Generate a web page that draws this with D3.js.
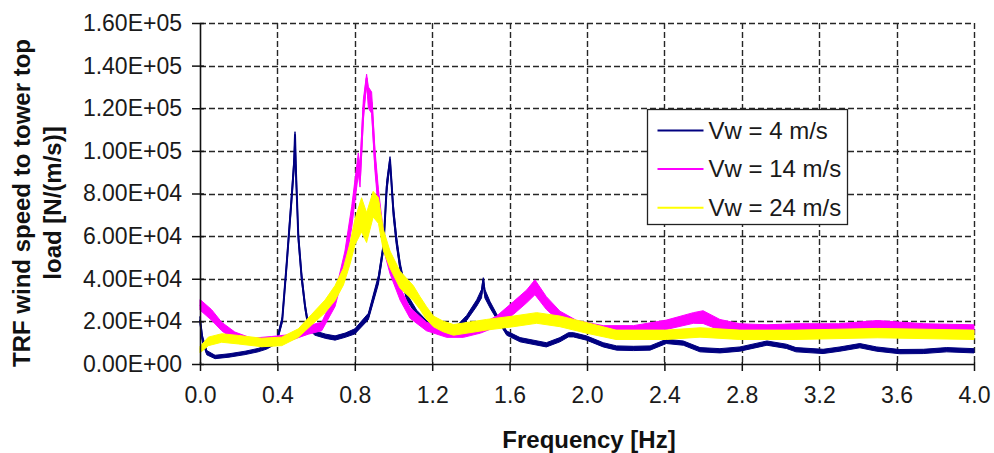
<!DOCTYPE html>
<html>
<head>
<meta charset="utf-8">
<script src="https://cdn.jsdelivr.net/npm/d3@7"></script>
<style>
  html, body { margin: 0; padding: 0; background: #fff; }
  svg { display: block; }
  text { font-family: "Liberation Sans", Arial, Helvetica, sans-serif; }
</style>
</head>
<body>
<svg id="chart" width="994" height="453"></svg>
<script>
// Transfer function, wind speed to tower-top load. Values in 1e3 N/(m/s).
// Each series: frequency [Hz], mean level, and half-width of the noise band.
const freqVw4 = [0.000, 0.012, 0.035, 0.078, 0.15, 0.233, 0.30, 0.345, 0.396, 0.425, 0.448, 0.474, 0.486, 0.491, 0.496, 0.500, 0.508, 0.525, 0.543, 0.560, 0.594, 0.65, 0.698, 0.75, 0.80, 0.87, 0.922, 0.948, 0.965, 0.982, 0.999, 1.015, 1.034, 1.067, 1.12, 1.19, 1.206, 1.31, 1.378, 1.43, 1.455, 1.464, 1.472, 1.499, 1.533, 1.585, 1.654, 1.79, 1.86, 1.904, 1.93, 1.997, 2.084, 2.153, 2.24, 2.326, 2.41, 2.498, 2.584, 2.687, 2.79, 2.93, 3.03, 3.08, 3.22, 3.307, 3.41, 3.497, 3.617, 3.738, 3.859, 4.0];
const trfVw4  = [20.8, 12, 5.3, 3.3, 4.0, 5.2, 6.5, 7.8, 10.6, 20.8, 47, 78.6, 94, 107.5, 90, 80, 60, 41, 27, 17.6, 14.5, 13.0, 12.2, 13.5, 15.3, 22.3, 39.5, 55, 83, 95.8, 72, 58, 45.8, 31.7, 24, 17.6, 16, 15.3, 21.6, 28.6, 33, 39.5, 33, 27.8, 22.3, 14.5, 11.4, 9.0, 11.4, 13.7, 13.7, 12.2, 9.0, 7.5, 7.3, 7.5, 10.6, 9.8, 6.7, 6.2, 7.0, 9.8, 8.3, 6.7, 5.9, 7.0, 8.6, 7.0, 5.8, 5.9, 6.7, 6.2];
const bandVw4 = [1.5, 1.5, 1, 0.8, 0.8, 0.8, 0.8, 0.8, 1, 1.5, 2, 2.5, 3, 1.5, 4, 3, 2.5, 2, 1.5, 1.2, 1, 1, 1, 1, 1.2, 1.5, 2, 2, 3, 1.5, 3, 2.5, 2, 1.5, 1.2, 1, 1, 1, 1.2, 1.5, 2, 1, 2, 1.5, 1.2, 1, 1, 1, 1, 1, 1, 1, 1, 1, 1, 1, 1, 1, 1, 1, 1, 1, 1, 1, 1, 1, 1, 1, 1, 1, 1, 1];

const freqVw14 = [0.0, 0.06, 0.112, 0.18, 0.267, 0.37, 0.456, 0.56, 0.629, 0.698, 0.749, 0.784, 0.818, 0.827, 0.844, 0.861, 0.87, 0.887, 0.904, 0.922, 0.948, 0.982, 1.034, 1.085, 1.17, 1.275, 1.361, 1.45, 1.533, 1.62, 1.688, 1.731, 1.79, 1.86, 1.947, 2.084, 2.24, 2.41, 2.55, 2.6, 2.687, 2.79, 2.93, 3.08, 3.3, 3.5, 3.74, 4.0];
const trfVw14  = [27.8, 23, 17.6, 13, 10.6, 11.4, 12.2, 16, 17.6, 30, 49, 69, 94, 88, 119, 134, 125, 122.6, 95.8, 77, 58, 45.8, 33, 24, 17.6, 14.5, 14.5, 16.5, 20, 26.3, 31.7, 36, 28.6, 22.3, 18.4, 16, 16, 18.4, 21.6, 22, 18.4, 16.9, 16.4, 16.9, 16.9, 18.4, 16.9, 16.4];
const bandVw14 = [2.5, 2.5, 2, 2, 1.5, 1.5, 1.5, 2, 2, 3, 4, 5, 5, 5, 5, 2, 5, 5, 5, 5, 4, 3.5, 3, 2.5, 2, 2, 2, 2, 2.5, 3, 3, 3.5, 3, 2.5, 2, 2, 2, 2.2, 2.5, 3, 2.5, 2, 2, 2, 2, 2, 2, 2];

const freqVw24 = [0.0, 0.043, 0.112, 0.198, 0.319, 0.422, 0.508, 0.577, 0.646, 0.698, 0.741, 0.776, 0.801, 0.835, 0.861, 0.895, 0.922, 0.948, 0.982, 1.034, 1.102, 1.137, 1.17, 1.206, 1.257, 1.31, 1.48, 1.62, 1.74, 1.86, 2.0, 2.15, 2.41, 2.584, 2.79, 3.08, 3.5, 4.0];
const trfVw24  = [6.7, 10.6, 12.2, 11.4, 10.1, 10.6, 14.5, 20.8, 27, 33.3, 41, 52, 62, 70, 64, 75, 72, 58, 49, 39.5, 33.3, 28.6, 24, 20, 17.6, 16, 18.4, 20, 21.6, 20, 16.9, 13.7, 13.7, 14.8, 13.7, 13.7, 14.5, 13.7];
const bandVw24 = [1.5, 2, 2, 2, 2, 2, 2, 2.5, 3, 3.5, 4, 5, 6, 8, 7, 6, 6, 5, 4, 4, 3.5, 3, 3, 2.5, 2.5, 2.5, 2.5, 2.5, 2.5, 2.5, 2.5, 2.2, 2.2, 2.2, 2.2, 2.2, 2.2, 2.2];

const seriesNames  = ["Vw = 4 m/s", "Vw = 14 m/s", "Vw = 24 m/s"];
const seriesColors = ["#000080", "#ff00ff", "#ffff00"];

const xTicks = [0.0, 0.4, 0.8, 1.2, 1.6, 2.0, 2.4, 2.8, 3.2, 3.6, 4.0];
const xTickLabels = ["0.0", "0.4", "0.8", "1.2", "1.6", "2.0", "2.4", "2.8", "3.2", "3.6", "4.0"];
const yTicks = [0, 20000, 40000, 60000, 80000, 100000, 120000, 140000, 160000];
const yTickLabels = ["0.00E+00", "2.00E+04", "4.00E+04", "6.00E+04", "8.00E+04", "1.00E+05", "1.20E+05", "1.40E+05", "1.60E+05"];

const xTitle = "Frequency [Hz]";
const yTitleLines = ["TRF wind speed to tower top", "load [N/(m/s)]"];

// Layout
const plot = { left: 200, right: 974, top: 23, bottom: 364 };
const svg = d3.select("#chart");
svg.append("rect").attr("width", 994).attr("height", 453).attr("fill", "#fff");

const x = d3.scaleLinear().domain([0, 4]).range([plot.left, plot.right]);
const y = d3.scaleLinear().domain([0, 160000]).range([plot.bottom, plot.top]);
const crisp = v => Math.round(v) + 0.5;

// Dashed grid
const grid = svg.append("g").attr("stroke", "#262626").attr("stroke-width", 1.4)
  .attr("stroke-dasharray", "6,3").attr("fill", "none");
grid.selectAll("line.h").data(yTicks.slice(1)).join("line")
  .attr("x1", plot.left).attr("x2", plot.right)
  .attr("y1", d => crisp(y(d))).attr("y2", d => crisp(y(d)));
grid.selectAll("line.v").data(xTicks.slice(1)).join("line")
  .attr("y1", plot.top).attr("y2", plot.bottom)
  .attr("x1", d => crisp(x(d))).attr("x2", d => crisp(x(d)));

// Series: noise band plus centre line
const series = [
  { f: freqVw4,  v: trfVw4,  b: bandVw4 },
  { f: freqVw14, v: trfVw14, b: bandVw14 },
  { f: freqVw24, v: trfVw24, b: bandVw24 }
];
const band = d3.area()
  .x(d => x(d.f))
  .y0(d => y(Math.max(0, d.v - d.b) * 1000))
  .y1(d => y((d.v + d.b) * 1000));
const line = d3.line().x(d => x(d.f)).y(d => y(d.v * 1000));

series.forEach((s, i) => {
  const pts = s.f.map((f, k) => ({ f: f, v: s.v[k], b: s.b[k] }));
  const g = svg.append("g");
  g.append("path").attr("d", band(pts)).attr("fill", seriesColors[i])
    .attr("stroke", seriesColors[i]).attr("stroke-width", 1).attr("stroke-linejoin", "round");
  g.append("path").attr("d", line(pts)).attr("fill", "none")
    .attr("stroke", seriesColors[i]).attr("stroke-width", 2).attr("stroke-linejoin", "round");
});

// Axes
const fontFamily = '"Liberation Sans", Arial, Helvetica, sans-serif';
const yAxis = svg.append("g").attr("transform", `translate(${plot.left},0)`)
  .call(d3.axisLeft(y).tickValues(yTicks).tickSize(8).tickSizeOuter(0).tickPadding(10)
    .tickFormat((d, i) => yTickLabels[i]));
const xAxis = svg.append("g").attr("transform", `translate(0,${plot.bottom})`)
  .call(d3.axisBottom(x).tickValues(xTicks).tickSize(7).tickSizeOuter(0).tickPadding(16)
    .tickFormat((d, i) => xTickLabels[i]));
[yAxis, xAxis].forEach(a => {
  a.attr("font-family", fontFamily).attr("font-size", 23);
  a.select(".domain").attr("stroke", "#111").attr("stroke-width", 1.6);
  a.selectAll(".tick line").attr("stroke", "#111").attr("stroke-width", 1.5);
  a.selectAll(".tick text").attr("fill", "#1a1a1a");
});
// short inner part of the crossing tick marks
yAxis.selectAll(".tick").append("line").attr("x1", 0).attr("x2", 4)
  .attr("stroke", "#111").attr("stroke-width", 1.5);
xAxis.selectAll(".tick").append("line").attr("y1", 0).attr("y2", -2)
  .attr("stroke", "#111").attr("stroke-width", 1.5);

// Axis titles
svg.append("text").attr("x", 589).attr("y", 448).attr("text-anchor", "middle")
  .attr("font-size", 24).attr("font-weight", "bold").attr("fill", "#111").text(xTitle);
const yTitle = svg.append("text").attr("transform", "translate(0,203) rotate(-90)")
  .attr("text-anchor", "middle").attr("font-size", 24).attr("font-weight", "bold").attr("fill", "#111");
yTitleLines.forEach((t, i) => {
  yTitle.append("tspan").attr("x", 0).attr("y", 30 + i * 31).text(t);
});

// Legend
const legend = svg.append("g").attr("transform", "translate(647.5,109.5)");
legend.append("rect").attr("width", 200).attr("height", 115)
  .attr("fill", "#fff").attr("stroke", "#222").attr("stroke-width", 1.3);
seriesNames.forEach((name, i) => {
  const ly = 21 + i * 38.6;
  legend.append("line").attr("x1", 10).attr("x2", 56).attr("y1", ly).attr("y2", ly)
    .attr("stroke", seriesColors[i]).attr("stroke-width", 2);
  legend.append("text").attr("x", 61).attr("y", ly + 8).attr("font-size", 24)
    .attr("fill", "#1a1a1a").text(name);
});
</script>
</body>
</html>
